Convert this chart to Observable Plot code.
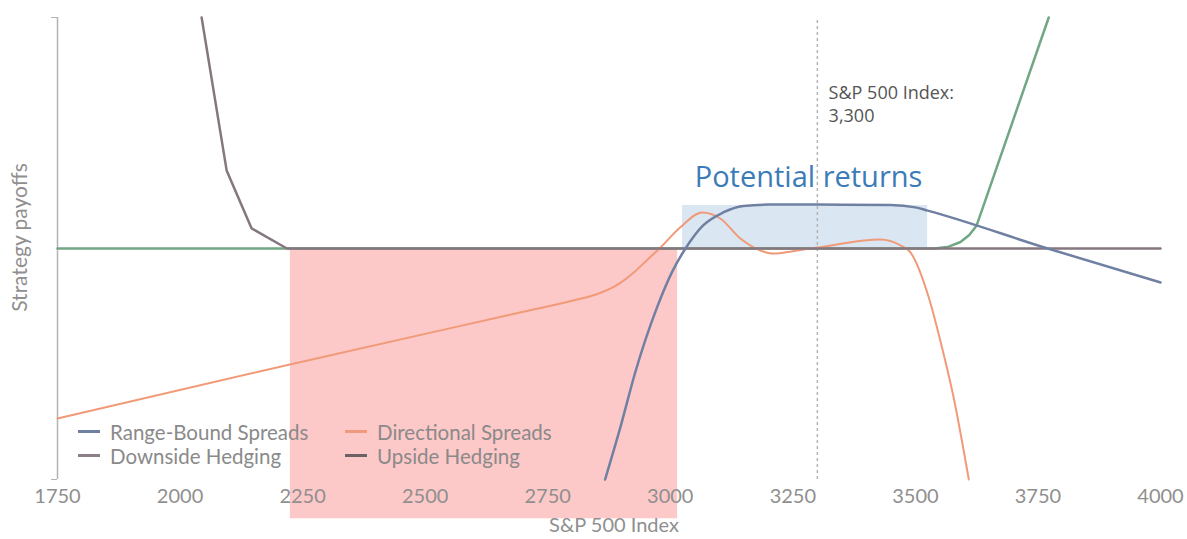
<!DOCTYPE html>
<html>
<head>
<meta charset="utf-8">
<script src="https://cdn.jsdelivr.net/npm/d3@7"></script>
<script src="https://cdn.jsdelivr.net/npm/@observablehq/plot@0.6"></script>
<style>
  html, body { margin: 0; padding: 0; background: #fff; }
  #wrap { position: relative; width: 1187px; height: 539px; }
  #legend { position: absolute; left: 78px; top: 420px; display: grid;
    grid-template-columns: 267px 260px; row-gap: 1px;
    font-family: Lato, "DejaVu Sans", sans-serif; font-size: 20.5px; color: #8a8a8a; }
  #legend .item { display: flex; align-items: center; height: 23px; }
  #legend .sw { width: 22px; height: 2.5px; margin-right: 10px; }
</style>
</head>
<body>
<div id="wrap"><div id="chart"></div><div id="legend"></div></div>
<script>
// ---- data ----
const xTicks = [1750, 2000, 2250, 2500, 2750, 3000, 3250, 3500, 3750, 4000];
const seriesNames = ["Range-Bound Spreads", "Directional Spreads", "Downside Hedging", "Upside Hedging"];
const seriesColors = ["#6f80a2", "#f29a7c", "#8d7f87", "#6b6266"];

const rangeBound = [[2867,-100],[2900,-76],[2928,-54],[2973,-25.5],[3004,-10],[3031,0],[3067,10],[3108,15.6],[3149,18.4],[3200,19],[3300,19],[3450,18.8],[3500,17.8],[3525,16.4],[3770,0],[4000,-14.7]];
const directional = [[1750,-73.6],[2224,-50.2],[2700,-27.4],[2800,-22.6],[2850,-19.8],[2890,-16],[2925,-10.5],[2955,-4.5],[2978,0],[3020,9.1],[3065,15.6],[3102,13],[3143,4.3],[3184,-0.9],[3208,-2.2],[3259,-0.9],[3300,0.4],[3429,3.9],[3470,1.3],[3490,-1.7],[3527,-21],[3551,-40],[3578,-64.5],[3609,-100]];
const downsideHedging = [[2044,100],[2095,33.8],[2146,8.7],[2218,0],[4000,0]];
const upsideHedging = [[1750,0],[3540,0],[3568,0.8],[3592,2.8],[3610,5.8],[3625,10],[3772,100]];

const lossZone = [{x1: 2225, x2: 3015, y1: -117, y2: 0}];
const returnZone = [{x1: 3025, x2: 3525, y1: 0, y2: 18.6}];
const currentLevel = 3300;
const currentLabelLines = ["S&P 500 Index:", "3,300"];
const zoneLabel = "Potential returns";
const xLabel = "S&P 500 Index";
const yLabel = "Strategy payoffs";

const toRows = (pts) => pts.map(([x, y]) => ({x, y}));
const font = "Lato, 'DejaVu Sans', sans-serif";

const chart = Plot.plot({
  width: 1187,
  height: 539,
  marginLeft: 57,
  marginRight: 27,
  marginTop: 17,
  marginBottom: 60,
  style: {fontFamily: font, background: "transparent", overflow: "visible"},
  x: {domain: [1750, 4000]},
  y: {domain: [-100, 100]},
  marks: [
    Plot.rect(lossZone, {x1: "x1", x2: "x2", y1: "y1", y2: "y2", fill: "#fdc8c8"}),
    Plot.rect(returnZone, {x1: "x1", x2: "x2", y1: "y1", y2: "y2", fill: "#dbe6f3"}),
    Plot.ruleX([currentLevel], {y1: -100, y2: 100, stroke: "#b5b5b5", strokeWidth: 1.5, strokeDasharray: "3,3"}),
    Plot.ruleX([1750], {y1: -100, y2: 100, stroke: "#b3b3b3", strokeWidth: 1.5}),
    Plot.axisY({ticks: [-100, 100], tickSize: 6, tickFormat: () => "", stroke: "#b3b3b3", label: null}),
    Plot.axisX({ticks: xTicks, tickSize: 0, tickPadding: 9, tickFormat: d => String(d), fontSize: 20, fill: "#8f8f8f", label: null}),
    Plot.line(toRows(upsideHedging), {x: "x", y: "y", stroke: "#72a784", strokeWidth: 2.5, curve: "linear"}),
    Plot.line(toRows(directional), {x: "x", y: "y", stroke: "#f09a78", strokeWidth: 2, curve: "monotone-x"}),
    Plot.line(toRows(downsideHedging), {x: "x", y: "y", stroke: "#85777f", strokeWidth: 2.5}),
    Plot.line(toRows(rangeBound), {x: "x", y: "y", stroke: "#6f80a2", strokeWidth: 2.5, curve: "monotone-x"}),
    Plot.text([zoneLabel], {x: 3282, y: 30.7, text: d => d, fontSize: 29, fill: "#3b7bb8", fontFamily: "'Open Sans', sans-serif", lineAnchor: "middle"}),
    Plot.text([currentLabelLines[0]], {x: 3323, y: 70.4, text: d => d, fontSize: 18, fill: "#555555", fontFamily: "'Open Sans', sans-serif", textAnchor: "start", lineAnchor: "top"}),
    Plot.text([currentLabelLines[1]], {x: 3323, y: 70.4, dy: 23, text: d => d, fontSize: 18, fill: "#555555", fontFamily: "'Open Sans', sans-serif", textAnchor: "start", lineAnchor: "top"}),
    Plot.text([xLabel], {frameAnchor: "bottom", dy: 52, dx: 5, text: d => d, fontSize: 20, fill: "#8f8f8f"}),
    Plot.text([yLabel], {frameAnchor: "left", dx: -37, dy: -11, rotate: -90, textAnchor: "middle", text: d => d, fontSize: 21, fill: "#8f8f8f"})
  ]
});
document.getElementById("chart").appendChild(chart);

const legend = document.getElementById("legend");
[0, 1, 2, 3].forEach(i => {
  const item = document.createElement("div");
  item.className = "item";
  const sw = document.createElement("span");
  sw.className = "sw";
  sw.style.background = seriesColors[i];
  const label = document.createElement("span");
  label.textContent = seriesNames[i];
  item.appendChild(sw);
  item.appendChild(label);
  legend.appendChild(item);
});
</script>
</body>
</html>
